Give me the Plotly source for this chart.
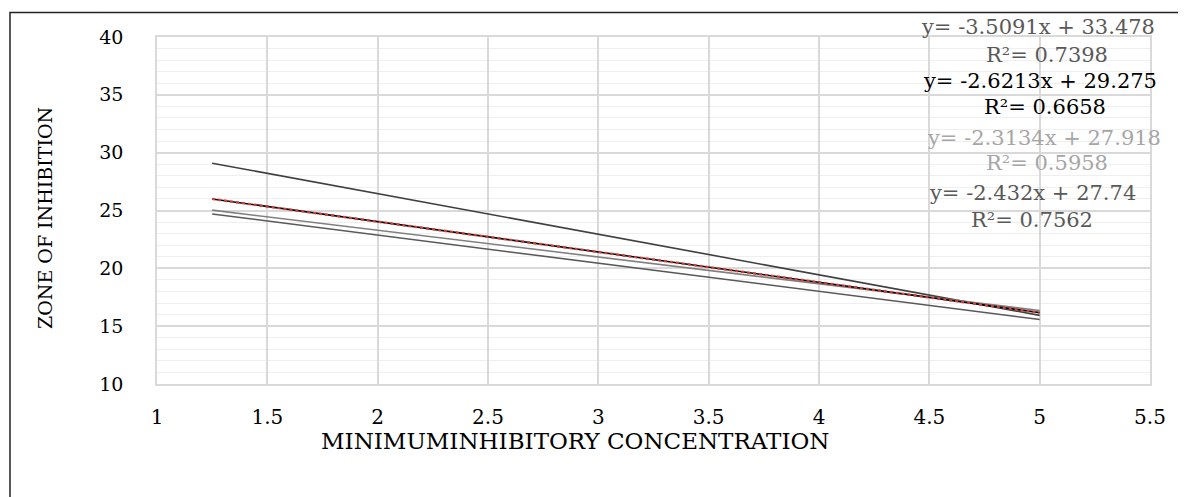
import plotly.graph_objects as go

# Data: trendline endpoints (x = MIC, y = zone of inhibition)
x_ends = [1.25, 5.0]
series1 = [29.09, 15.93]
series2 = [26.00, 16.17]
series3 = [25.03, 16.35]
series4 = [24.70, 15.58]

eq_labels = ["y= -3.5091x + 33.478", "y= -2.6213x + 29.275",
             "y= -2.3134x + 27.918", "y= -2.432x + 27.74"]
r2_labels = ["R²= 0.7398", "R²= 0.6658", "R²= 0.5958", "R²= 0.7562"]
eq_colors = ["#595959", "#000000", "#a6a6a6", "#595959"]
line_colors = ["#404040", "#000000", "#808080", "#595959"]

x_ticks = [1, 1.5, 2, 2.5, 3, 3.5, 4, 4.5, 5, 5.5]
y_ticks = [10, 15, 20, 25, 30, 35, 40]

FONT = "DejaVu Serif"
OFF = 8  # page body offset
FW, FH = 1186 - OFF, 497 - OFF
L, R, T, B = 157 - OFF, 1150 - OFF, 37 - OFF, 384 - OFF
W, H = R - L, B - T

def px(x):
    return (x - OFF - L) / W

def py(y):
    return (B - (y - OFF)) / H

fig = go.Figure()
for ys, col in zip([series1, series3, series4, series2],
                   [line_colors[0], line_colors[2], line_colors[3], line_colors[1]]):
    fig.add_trace(go.Scatter(x=x_ends, y=ys, mode="lines",
                             line=dict(color=col, width=1.6), showlegend=False))
# red dotted series on the black trendline
fig.add_trace(go.Scatter(x=x_ends, y=series2, mode="lines",
                         line=dict(color="#d0413c", width=2.4, dash="dot"), showlegend=False))

# equation labels (pixel centres in the reference)
eq_pos = [(1038, 27), (1040, 81), (1044, 138), (1032, 193)]
r2_pos = [(1047, 55), (1045, 107), (1047, 163), (1032, 220)]
annotations = []
for (ex, ey), (rx, ry), e, r, c in zip(eq_pos, r2_pos, eq_labels, r2_labels, eq_colors):
    annotations.append(dict(x=px(ex), y=py(ey), xref="paper", yref="paper", text=e,
                            showarrow=False, xanchor="center", yanchor="middle",
                            font=dict(family=FONT, size=21, color=c)))
    annotations.append(dict(x=px(rx), y=py(ry), xref="paper", yref="paper", text=r,
                            showarrow=False, xanchor="center", yanchor="middle",
                            font=dict(family=FONT, size=21, color=c)))

# axis titles
annotations.append(dict(x=px(575), y=py(441), xref="paper", yref="paper",
                        text="MINIMUMINHIBITORY CONCENTRATION", showarrow=False,
                        xanchor="center", yanchor="middle",
                        font=dict(family=FONT, size=23, color="#000000")))
annotations.append(dict(x=px(45), y=py(218), xref="paper", yref="paper",
                        text="ZONE OF INHIBITION", showarrow=False, textangle=-90,
                        xanchor="center", yanchor="middle",
                        font=dict(family=FONT, size=19, color="#000000")))

fig.update_layout(
    width=FW, height=FH,
    margin=dict(l=L, r=FW - R, t=T, b=FH - B),
    paper_bgcolor="white", plot_bgcolor="white",
    annotations=annotations,
    shapes=[dict(type="rect", xref="paper", yref="paper",
                 x0=px(10), x1=1.2, y0=-0.6, y1=py(12.5),
                 line=dict(color="#222222", width=1.5), layer="below")],
)
fig.update_xaxes(range=[1, 5.5], tickvals=x_ticks, ticktext=[str(v) for v in x_ticks],
                 automargin=False,
                 showgrid=True, gridcolor="#d9d9d9", gridwidth=1.5,
                 showline=True, linecolor="#d9d9d9", linewidth=1.5, mirror=True,
                 zeroline=False, ticks="", ticklabelstandoff=14,
                 tickfont=dict(family=FONT, size=20, color="#000000"))
fig.update_yaxes(range=[10, 40], tickvals=y_ticks, automargin=False,
                 showgrid=True, gridcolor="#d9d9d9", gridwidth=1.5,
                 minor=dict(dtick=1, showgrid=True, gridcolor="#efefef", gridwidth=1),
                 showline=True, linecolor="#d9d9d9", linewidth=1.5, mirror=True,
                 zeroline=False, ticks="", ticklabelstandoff=28,
                 tickfont=dict(family=FONT, size=19, color="#000000"))

fig.write_html("out.html")
